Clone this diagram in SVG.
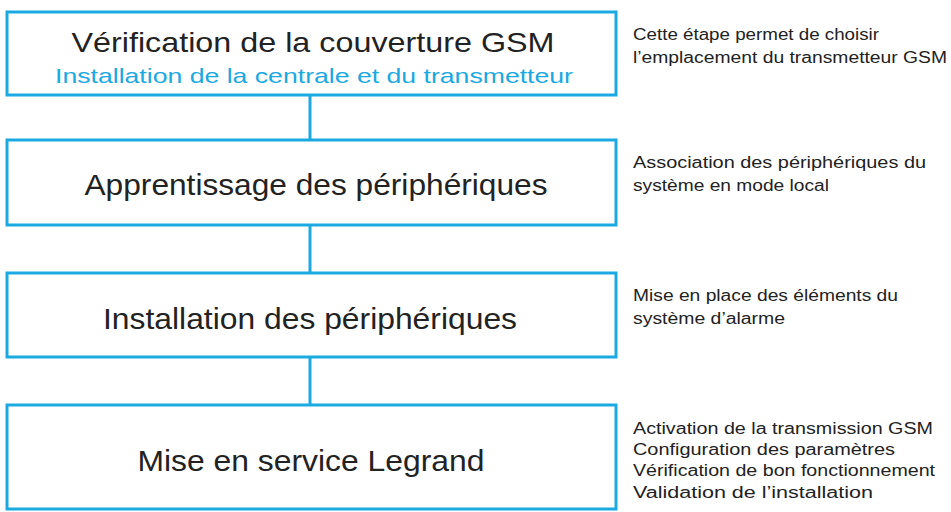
<svg xmlns="http://www.w3.org/2000/svg" width="951" height="512" viewBox="0 0 951 512">
<style>
.box{fill:#fff;stroke:#1ba9e1;stroke-width:3}
.t{font-family:"Liberation Sans",Arial,sans-serif;fill:#222;text-anchor:middle}
.n{font-family:"Liberation Sans",Arial,sans-serif;fill:#222;font-size:16px}
.c{stroke:#1ba9e1;stroke-width:3}
</style>
<rect width="951" height="512" fill="#fff"/>
<g id="connectors">
<line class="c" x1="310" y1="95" x2="310" y2="140"/>
<line class="c" x1="310" y1="225" x2="310" y2="273"/>
<line class="c" x1="310" y1="357" x2="310" y2="405"/>
</g>
<g id="n1"><rect class="box" x="7" y="12" width="609" height="83"/>
<text class="t" x="313" y="52" font-size="28" textLength="483" lengthAdjust="spacingAndGlyphs">Vérification de la couverture GSM</text>
<text class="t" x="314" y="83" font-size="21" textLength="518" lengthAdjust="spacingAndGlyphs" style="fill:#1ba9e1">Installation de la centrale et du transmetteur</text></g>
<g id="n2"><rect class="box" x="7" y="140" width="609" height="85"/>
<text class="t" x="316" y="195" font-size="30" textLength="463" lengthAdjust="spacingAndGlyphs">Apprentissage des périphériques</text></g>
<g id="n3"><rect class="box" x="7" y="273" width="609" height="84"/>
<text class="t" x="310" y="329" font-size="30" textLength="414" lengthAdjust="spacingAndGlyphs">Installation des périphériques</text></g>
<g id="n4"><rect class="box" x="7" y="405" width="609" height="104"/>
<text class="t" x="311" y="471" font-size="30" textLength="347" lengthAdjust="spacingAndGlyphs">Mise en service Legrand</text></g>
<g id="notes">
<text class="n" x="633" y="40" textLength="246" lengthAdjust="spacingAndGlyphs">Cette étape permet de choisir</text>
<text class="n" x="633" y="63" textLength="314" lengthAdjust="spacingAndGlyphs">l’emplacement du transmetteur GSM</text>
<text class="n" x="633" y="168" textLength="293" lengthAdjust="spacingAndGlyphs">Association des périphériques du</text>
<text class="n" x="633" y="191" textLength="196" lengthAdjust="spacingAndGlyphs">système en mode local</text>
<text class="n" x="633" y="301" textLength="265" lengthAdjust="spacingAndGlyphs">Mise en place des éléments du</text>
<text class="n" x="633" y="324" textLength="152" lengthAdjust="spacingAndGlyphs">système d’alarme</text>
<text class="n" x="633" y="434" textLength="300" lengthAdjust="spacingAndGlyphs">Activation de la transmission GSM</text>
<text class="n" x="633" y="455" textLength="262" lengthAdjust="spacingAndGlyphs">Configuration des paramètres</text>
<text class="n" x="633" y="476" textLength="302" lengthAdjust="spacingAndGlyphs">Vérification de bon fonctionnement</text>
<text class="n" x="633" y="498" textLength="240" lengthAdjust="spacingAndGlyphs">Validation de l’installation</text>
</g>
</svg>
